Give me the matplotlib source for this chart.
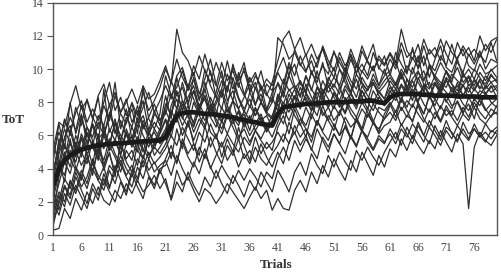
import numpy as np
from matplotlib import pyplot as plt
from matplotlib import rcParams

rcParams.update({
    'font.family': 'Liberation Serif', 'font.size': 8.5,
    'axes.edgecolor': '#555555', 'axes.linewidth': 1.0,
    'xtick.color': '#555555', 'ytick.color': '#555555',
    'xtick.labelcolor': '#444444', 'ytick.labelcolor': '#444444',
})

# trials 1..80, four blocks of 20
trials = np.arange(1, 81)

# group mean time on target (thick line)
mean_tot = [3.0, 4.0, 4.5, 4.8, 5.0, 5.15, 5.25, 5.35, 5.4, 5.45,
            5.5, 5.5, 5.55, 5.55, 5.6, 5.6, 5.65, 5.65, 5.7, 5.7,
            5.9, 6.6, 7.2, 7.35, 7.4, 7.4, 7.35, 7.3, 7.3, 7.25,
            7.2, 7.15, 7.1, 7.0, 6.95, 6.85, 6.8, 6.7, 6.65, 6.6,
            7.3, 7.7, 7.75, 7.8, 7.85, 7.9, 7.9, 7.95, 7.95, 8.0,
            8.0, 8.0, 8.0, 8.05, 8.05, 8.05, 8.1, 8.1, 8.0, 7.95,
            8.3, 8.45, 8.5, 8.5, 8.5, 8.5, 8.45, 8.45, 8.4, 8.4,
            8.4, 8.4, 8.35, 8.35, 8.35, 8.35, 8.3, 8.3, 8.3, 8.3]

# individual participants (thin lines)
subj_a = [5.2, 6.8, 6.5, 7.9, 9.0, 7.6, 8.1, 7.0, 8.4, 9.1, 7.8, 8.6, 7.4, 8.0, 8.8, 7.9, 9.0, 8.2, 8.5, 9.3,
          10.2, 9.1, 12.4, 11.0, 10.5, 9.6, 10.8, 9.9, 9.2, 10.4, 9.5, 8.8, 10.1, 9.3, 9.9, 8.7, 9.6, 9.0, 8.4, 9.2,
          10.5, 11.8, 12.3, 11.2, 11.9, 10.8, 11.5, 10.6, 11.2, 10.2, 11.0, 10.4, 9.8, 10.9, 10.1, 11.4, 10.5, 9.9, 10.8, 10.3,
          11.0, 10.4, 12.4, 11.1, 10.6, 11.5, 10.2, 11.2, 10.7, 11.8, 10.9, 10.3, 11.6, 10.8, 11.3, 10.5, 12.0, 11.1, 11.7, 11.9]
subj_b = [3.8, 5.5, 6.9, 6.2, 7.4, 8.1, 6.8, 7.6, 6.9, 8.0, 9.2, 7.5, 8.3, 7.2, 7.9, 6.8, 7.7, 8.6, 7.4, 8.1,
          9.0, 8.2, 9.6, 10.1, 8.9, 9.8, 8.5, 9.4, 10.6, 9.1, 8.3, 9.7, 8.8, 9.5, 10.4, 8.6, 9.2, 8.0, 9.1, 8.7,
          9.8, 9.1, 10.4, 9.6, 10.8, 9.9, 10.5, 9.4, 10.2, 9.7, 11.1, 10.0, 9.5, 10.6, 9.8, 10.3, 9.6, 11.0, 10.1, 9.7,
          10.6, 10.0, 11.2, 9.8, 10.7, 10.1, 11.4, 10.3, 9.9, 10.8, 10.2, 11.5, 10.4, 9.8, 10.9, 10.3, 11.1, 10.0, 10.6, 10.4]
subj_c = [2.4, 4.9, 5.8, 7.1, 6.3, 7.8, 6.5, 5.9, 7.2, 6.6, 7.9, 6.1, 7.4, 8.2, 6.8, 7.5, 6.4, 7.1, 7.9, 6.9,
          7.6, 9.3, 8.4, 8.9, 7.8, 9.5, 8.2, 8.8, 7.5, 8.6, 9.9, 8.1, 8.7, 7.6, 8.3, 9.1, 7.9, 8.5, 7.4, 8.0,
          9.2, 8.6, 9.7, 10.3, 9.1, 8.7, 9.8, 9.2, 10.4, 8.9, 9.5, 9.0, 10.1, 9.3, 8.8, 9.9, 9.4, 10.2, 9.0, 9.6,
          9.9, 10.5, 9.4, 10.2, 9.7, 10.8, 9.3, 10.1, 9.6, 10.4, 9.8, 9.2, 10.6, 9.5, 10.0, 9.4, 10.3, 9.7, 9.9, 10.2]
subj_d = [1.2, 3.5, 4.8, 5.6, 4.7, 6.1, 5.3, 6.7, 5.9, 5.2, 6.4, 5.7, 6.9, 6.0, 5.4, 6.6, 7.2, 6.1, 6.8, 6.3,
          7.9, 7.2, 8.6, 7.5, 8.3, 9.0, 7.7, 8.2, 7.1, 7.9, 8.6, 7.4, 8.1, 7.6, 6.9, 7.8, 7.2, 8.0, 7.3, 7.0,
          8.5, 7.9, 8.8, 8.2, 9.3, 8.6, 8.0, 8.9, 8.4, 9.2, 8.7, 8.1, 9.0, 8.5, 9.4, 8.3, 8.8, 9.1, 8.6, 8.2,
          9.3, 8.8, 9.6, 9.0, 8.5, 9.4, 9.9, 8.9, 9.2, 8.6, 9.5, 9.1, 8.7, 9.8, 9.0, 9.3, 8.8, 9.6, 9.2, 9.4]
subj_e = [3.0, 4.2, 3.6, 5.1, 4.4, 5.8, 4.9, 5.5, 4.6, 6.0, 5.1, 5.7, 4.8, 6.2, 5.3, 5.9, 5.0, 6.3, 5.4, 5.8,
          6.4, 7.5, 6.8, 7.9, 7.1, 6.5, 7.6, 6.9, 7.8, 7.0, 6.4, 7.3, 6.7, 7.5, 6.6, 7.2, 6.3, 6.9, 6.2, 6.8,
          7.1, 8.0, 7.4, 8.3, 7.6, 8.5, 7.8, 7.2, 8.4, 7.7, 8.6, 7.9, 7.3, 8.2, 7.8, 8.7, 8.0, 7.5, 8.3, 7.9,
          8.7, 8.1, 9.0, 8.4, 8.8, 8.0, 9.1, 8.5, 8.2, 9.0, 8.6, 8.3, 9.2, 8.4, 8.9, 8.1, 8.7, 8.5, 9.0, 8.3]
subj_f = [0.6, 2.1, 3.4, 2.8, 4.1, 3.5, 4.7, 3.9, 5.2, 4.3, 4.9, 3.8, 5.4, 4.6, 5.1, 4.2, 5.6, 4.8, 5.3, 4.9,
          5.5, 6.3, 7.1, 6.0, 6.8, 5.7, 6.6, 7.4, 6.2, 5.8, 6.9, 6.1, 7.0, 5.9, 6.4, 5.6, 6.3, 5.8, 6.5, 5.9,
          6.8, 7.6, 6.9, 7.8, 7.1, 6.6, 7.5, 8.0, 7.2, 7.7, 6.9, 7.4, 8.1, 7.3, 6.8, 7.6, 7.1, 7.9, 7.4, 7.0,
          7.8, 8.4, 7.5, 8.1, 7.7, 8.6, 7.9, 7.4, 8.2, 7.6, 8.5, 7.8, 8.0, 7.3, 8.3, 7.7, 8.1, 7.5, 7.9, 8.2]
subj_g = [1.5, 2.6, 2.0, 3.3, 2.7, 3.9, 3.1, 4.4, 3.6, 3.0, 4.2, 3.7, 4.8, 4.0, 3.5, 4.6, 4.1, 5.0, 4.3, 4.7,
          5.2, 6.0, 5.4, 6.5, 5.8, 5.1, 6.2, 5.6, 6.7, 5.9, 5.3, 6.1, 5.5, 5.0, 5.9, 5.4, 6.3, 5.7, 5.2, 5.6,
          6.2, 5.6, 6.8, 6.1, 7.0, 6.4, 5.9, 6.9, 6.3, 7.2, 6.6, 6.0, 7.1, 6.5, 6.9, 6.2, 7.3, 6.7, 6.4, 7.0,
          7.4, 6.9, 7.7, 7.1, 7.9, 7.3, 6.8, 7.6, 7.0, 7.8, 7.2, 7.5, 6.9, 7.7, 7.1, 8.0, 7.4, 7.0, 7.6, 7.3]
subj_h = [0.3, 0.4, 1.6, 1.0, 2.2, 1.5, 2.6, 1.9, 2.9, 2.1, 1.8, 2.7, 2.2, 3.1, 2.5, 3.3, 2.6, 3.0, 3.6, 2.8,
          3.4, 2.1, 3.2, 2.6, 3.8, 3.0, 2.4, 3.5, 2.9, 3.9, 3.1, 2.5, 3.6, 3.0, 2.3, 3.3, 2.7, 3.8, 3.2, 2.6,
          3.9, 3.3, 2.6, 3.8, 4.4, 3.6, 4.9, 4.2, 3.7, 4.8, 4.1, 5.0, 4.4, 3.9, 5.1, 4.5, 5.3, 4.7, 4.2, 5.0,
          5.6, 6.2, 5.4, 6.5, 5.8, 6.8, 6.0, 5.5, 6.6, 5.9, 6.9, 6.1, 5.7, 6.4, 5.8, 6.7, 6.0, 5.6, 6.3, 6.1]
subj_i = [2.0, 1.2, 2.5, 1.8, 3.0, 2.3, 1.6, 2.8, 2.1, 3.4, 2.6, 2.0, 3.2, 2.4, 3.7, 2.9, 2.2, 3.5, 2.8, 3.9,
          3.1, 2.2, 3.9, 3.0, 3.5, 2.7, 2.0, 2.8, 2.5, 1.9, 2.4, 3.1, 2.6, 2.1, 1.6, 2.3, 2.9, 2.2, 2.7, 1.5,
          2.2, 1.6, 1.5, 2.7, 3.3, 2.6, 3.8, 3.1, 4.2, 3.5, 4.6, 3.9, 3.3, 4.5, 3.8, 5.0, 4.3, 3.6, 4.8, 4.1,
          5.2, 4.7, 5.8, 5.1, 6.0, 5.4, 4.9, 5.7, 5.2, 6.3, 5.6, 5.0, 6.1, 5.5, 1.6, 5.3, 6.2, 5.7, 5.4, 6.0]
subj_j = [4.5, 6.7, 5.2, 8.0, 6.1, 7.3, 5.5, 6.9, 8.3, 6.0, 7.1, 9.2, 6.4, 7.6, 5.8, 7.0, 8.1, 6.3, 7.5, 6.6,
          8.4, 7.0, 9.5, 8.1, 7.3, 8.7, 7.5, 9.2, 8.0, 7.2, 8.8, 10.5, 9.1, 8.2, 7.4, 8.6, 7.8, 9.0, 7.6, 8.3,
          7.5, 8.9, 10.2, 9.0, 8.3, 9.6, 8.7, 9.9, 8.5, 9.3, 10.1, 8.8, 9.5, 8.6, 10.3, 9.2, 8.7, 9.7, 9.0, 10.0,
          9.0, 8.5, 9.8, 8.7, 10.1, 9.2, 8.6, 10.3, 9.4, 8.8, 9.9, 9.1, 8.4, 9.7, 9.2, 10.0, 9.5, 8.9, 9.6, 9.3]
subj_k = [2.8, 4.0, 5.5, 4.6, 3.9, 5.0, 4.3, 5.7, 4.8, 4.1, 5.4, 4.7, 3.8, 5.1, 4.5, 5.9, 5.2, 4.6, 5.5, 6.1,
          6.9, 5.9, 7.5, 6.6, 7.3, 6.2, 7.0, 6.4, 7.7, 6.8, 6.1, 7.2, 6.5, 5.7, 6.8, 6.0, 6.6, 7.1, 6.3, 6.7,
          7.3, 6.7, 7.9, 7.2, 6.6, 7.7, 7.0, 8.2, 7.4, 6.9, 7.8, 7.2, 8.3, 7.6, 7.1, 8.0, 7.4, 6.8, 7.7, 7.5,
          8.0, 7.4, 8.3, 7.7, 8.6, 7.9, 7.3, 8.4, 7.8, 8.7, 8.1, 7.6, 8.5, 7.9, 7.5, 8.2, 7.8, 8.6, 8.0, 7.7]
subj_l = [3.5, 5.8, 4.5, 6.3, 5.0, 7.2, 5.9, 6.6, 5.4, 8.8, 6.2, 7.0, 5.7, 6.8, 7.6, 6.1, 8.9, 7.0, 6.4, 7.3,
          9.6, 8.4, 8.9, 9.9, 8.7, 9.4, 8.1, 10.0, 9.0, 8.3, 9.3, 8.6, 10.3, 9.1, 8.4, 9.5, 8.8, 9.9, 8.5, 8.0,
          11.9, 11.5, 10.6, 11.0, 10.2, 10.9, 9.7, 10.4, 11.3, 10.1, 9.5, 10.7, 9.9, 11.2, 10.3, 9.8, 10.6, 11.5, 10.0, 10.8,
          9.6, 11.0, 10.3, 9.7, 11.3, 10.0, 10.8, 9.5, 10.6, 11.4, 10.1, 9.8, 10.7, 11.2, 10.2, 9.9, 10.9, 10.4, 11.6, 10.5]
subj_m = [1.8, 3.1, 4.4, 3.7, 5.1, 4.2, 4.9, 3.6, 5.3, 4.5, 5.8, 4.9, 4.2, 5.5, 6.0, 5.1, 4.6, 5.8, 5.2, 6.2,
          7.0, 6.3, 7.7, 7.1, 6.5, 8.0, 7.2, 6.6, 7.9, 7.3, 6.8, 7.6, 6.9, 7.4, 6.5, 7.1, 6.7, 7.3, 6.4, 6.9,
          7.9, 7.3, 8.5, 7.8, 8.9, 8.1, 7.5, 8.6, 8.0, 9.0, 8.3, 7.7, 8.8, 8.2, 7.6, 8.7, 8.1, 9.2, 8.4, 7.9,
          8.6, 9.2, 8.4, 8.9, 8.1, 9.5, 8.7, 8.2, 9.1, 8.5, 9.3, 8.8, 8.3, 9.0, 8.6, 9.4, 8.9, 8.8, 9.2, 8.7]
subj_n = [4.9, 6.2, 5.4, 4.6, 6.0, 5.1, 6.5, 5.7, 4.9, 6.3, 5.5, 6.8, 5.2, 6.1, 5.6, 6.9, 6.0, 5.3, 6.4, 5.8,
          6.2, 7.4, 8.2, 7.0, 7.8, 6.6, 7.5, 8.4, 7.1, 6.5, 7.7, 7.0, 8.1, 6.8, 7.3, 6.3, 7.6, 6.9, 7.2, 6.5,
          8.4, 7.6, 8.1, 8.8, 7.8, 8.3, 7.5, 8.9, 8.2, 7.7, 8.5, 8.0, 7.4, 8.6, 7.9, 8.3, 7.6, 8.7, 8.1, 7.8,
          8.3, 8.8, 8.0, 9.4, 8.6, 8.1, 9.0, 8.4, 9.2, 8.7, 8.0, 8.9, 8.5, 9.1, 8.2, 8.8, 8.4, 9.0, 8.6, 8.9]
subj_o = [0.8, 1.9, 3.0, 2.4, 3.8, 2.9, 3.5, 4.6, 3.3, 4.1, 2.9, 3.8, 4.5, 3.6, 4.2, 3.4, 4.8, 3.9, 4.4, 3.7,
          4.6, 5.4, 4.3, 5.8, 4.9, 5.5, 4.4, 5.2, 4.0, 4.8, 5.6, 4.5, 5.1, 4.1, 4.9, 4.3, 5.3, 4.6, 4.2, 4.9,
          5.4, 6.1, 5.5, 6.6, 5.9, 6.4, 5.6, 6.9, 6.2, 5.7, 6.7, 6.0, 6.5, 5.8, 7.0, 6.3, 5.9, 6.8, 6.1, 6.6,
          6.8, 7.5, 6.6, 7.2, 6.9, 7.8, 7.0, 6.5, 7.4, 6.8, 7.6, 7.1, 6.6, 7.3, 6.9, 7.7, 7.0, 6.7, 7.2, 7.4]
subj_p = [2.2, 3.7, 5.0, 4.1, 5.6, 4.7, 6.2, 5.3, 4.5, 6.6, 5.1, 5.8, 4.9, 6.4, 5.5, 5.0, 6.7, 5.8, 6.2, 5.5,
          6.0, 7.8, 8.7, 7.5, 9.1, 8.2, 7.4, 8.8, 9.9, 8.3, 7.6, 9.0, 8.1, 9.8, 8.5, 7.7, 8.9, 8.0, 7.5, 8.6,
          9.1, 8.3, 9.6, 8.8, 9.3, 8.5, 9.9, 9.0, 8.4, 9.5, 8.9, 10.0, 9.2, 8.6, 9.7, 9.1, 8.7, 9.4, 8.8, 9.3,
          9.7, 9.1, 10.0, 9.4, 8.9, 9.8, 9.3, 10.2, 9.5, 9.0, 9.9, 9.4, 10.1, 9.2, 9.6, 9.0, 9.8, 9.3, 10.0, 9.5]
subj_q = [1.0, 2.4, 1.7, 3.2, 2.5, 3.6, 2.8, 4.0, 3.3, 2.7, 3.9, 3.1, 4.3, 3.5, 2.9, 4.1, 3.4, 4.6, 3.8, 4.2,
          4.5, 3.6, 4.8, 4.0, 3.3, 4.4, 3.7, 4.9, 4.1, 3.4, 4.2, 3.6, 3.1, 3.9, 3.3, 4.0, 3.5, 2.9, 3.8, 3.4,
          4.6, 5.3, 4.5, 5.7, 5.0, 5.8, 5.2, 4.6, 5.9, 5.3, 6.1, 5.5, 4.9, 6.0, 5.4, 6.3, 5.6, 5.1, 5.8, 5.5,
          6.4, 5.8, 6.7, 6.1, 5.5, 6.6, 6.0, 6.9, 6.3, 5.7, 6.5, 6.2, 5.6, 6.8, 6.1, 6.4, 5.9, 6.7, 6.2, 6.5]
subj_r = [5.5, 4.3, 5.9, 6.6, 5.2, 7.0, 6.1, 5.4, 6.8, 6.0, 7.4, 6.3, 5.7, 7.1, 6.5, 7.8, 6.6, 6.0, 7.3, 6.9,
          7.3, 8.5, 7.6, 9.2, 8.0, 8.7, 7.7, 8.4, 7.3, 8.1, 8.8, 7.8, 9.5, 8.3, 7.6, 8.2, 7.2, 8.0, 7.4, 7.1,
          8.1, 9.4, 8.7, 9.0, 8.4, 9.6, 8.8, 8.2, 9.3, 8.6, 9.1, 8.5, 9.8, 9.0, 8.3, 9.5, 8.9, 9.2, 8.6, 9.0,
          9.5, 9.0, 9.8, 8.9, 9.4, 9.9, 9.1, 8.8, 9.6, 9.2, 8.9, 9.7, 9.3, 9.0, 9.5, 8.8, 9.4, 9.1, 9.7, 9.2]
subj_s = [2.6, 1.5, 2.9, 2.2, 3.5, 2.7, 1.9, 3.1, 2.4, 3.7, 2.8, 4.2, 3.3, 2.6, 3.9, 3.2, 4.5, 3.6, 3.0, 4.0,
          4.2, 5.0, 4.4, 5.6, 4.7, 4.1, 5.3, 4.6, 5.9, 5.0, 4.3, 5.4, 4.8, 5.8, 4.6, 5.1, 4.4, 5.5, 4.7, 4.1,
          5.0, 4.3, 5.6, 6.2, 5.4, 6.0, 5.1, 6.4, 5.7, 5.0, 6.1, 5.5, 6.6, 5.9, 5.3, 6.3, 5.8, 5.2, 6.0, 5.6,
          6.1, 5.5, 6.4, 5.9, 6.7, 6.2, 5.6, 6.5, 6.0, 5.4, 6.3, 5.8, 6.6, 6.1, 5.7, 6.4, 5.9, 6.2, 5.8, 6.3]
subj_t = [3.3, 5.1, 6.4, 5.5, 4.8, 5.9, 5.2, 6.7, 5.8, 6.2, 5.3, 6.8, 6.0, 5.4, 6.5, 5.7, 6.9, 6.2, 5.6, 6.4,
          7.5, 6.7, 7.2, 8.1, 7.4, 6.8, 7.9, 7.2, 8.3, 7.5, 6.9, 7.8, 7.1, 6.6, 7.5, 6.9, 7.7, 7.0, 6.5, 7.2,
          8.0, 8.6, 7.8, 8.4, 7.9, 9.1, 8.3, 7.7, 8.8, 8.2, 7.6, 8.9, 8.1, 8.5, 7.8, 9.0, 8.4, 7.9, 8.7, 8.2,
          8.9, 8.4, 9.1, 8.6, 9.3, 8.5, 8.9, 9.2, 8.3, 8.8, 9.4, 8.6, 9.0, 8.4, 9.1, 8.7, 9.3, 8.5, 8.9, 9.0]
subj_u = [2.5, 4.4, 3.2, 5.8, 4.0, 3.3, 5.4, 4.2, 6.1, 3.9, 5.0, 3.5, 5.7, 4.4, 3.8, 5.5, 4.6, 5.9, 4.8, 5.3,
          5.9, 4.6, 6.4, 5.2, 6.9, 5.5, 4.8, 6.6, 5.3, 6.1, 4.7, 5.8, 5.0, 6.5, 5.4, 4.5, 5.9, 4.9, 5.6, 5.1,
          6.5, 7.2, 6.1, 7.6, 6.7, 5.9, 7.3, 6.6, 7.8, 6.9, 6.3, 7.5, 6.8, 5.8, 7.1, 6.4, 7.7, 6.9, 6.2, 7.3,
          7.9, 7.1, 8.2, 7.5, 6.8, 8.0, 7.3, 8.4, 7.6, 6.9, 7.8, 7.2, 8.1, 7.4, 7.9, 7.0, 8.3, 7.6, 7.1, 7.8]
subj_v = [3.9, 5.3, 7.0, 6.0, 7.7, 6.6, 8.2, 7.1, 6.4, 7.8, 6.9, 8.4, 7.3, 6.7, 8.0, 7.2, 8.6, 7.5, 8.1, 8.9,
          10.0, 9.2, 10.6, 9.5, 8.8, 10.2, 9.4, 10.9, 9.7, 9.0, 10.4, 9.3, 9.9, 8.9, 10.1, 9.2, 9.8, 8.7, 9.4, 9.0,
          9.9, 10.7, 9.6, 11.2, 10.3, 9.8, 10.9, 10.1, 11.4, 10.5, 9.9, 11.0, 10.2, 10.8, 9.7, 11.1, 10.4, 9.9, 10.6, 10.2,
          10.9, 10.2, 11.6, 10.7, 11.1, 10.4, 11.8, 10.9, 11.3, 10.5, 11.7, 11.0, 10.6, 11.4, 10.8, 11.2, 10.7, 11.5, 11.0, 11.8]

subjects = [subj_a, subj_b, subj_c, subj_d, subj_e, subj_f, subj_g, subj_h, subj_i, subj_j, subj_k,
            subj_l, subj_m, subj_n, subj_o, subj_p, subj_q, subj_r, subj_s, subj_t, subj_u, subj_v]

xtick_labels = [str(t) for t in range(1, 80, 5)]

fig = plt.figure(figsize=(5.01, 2.73), dpi=100)
ax = fig.add_axes([0.1064, 0.139, 0.885, 0.851])

for s in subjects:
    ax.plot(trials, s, color='#2e2e2e', lw=0.9)
ax.plot(trials, mean_tot, color='#1a1a1a', lw=3.4, solid_capstyle='round')

ax.set_xlim(1, 80)
ax.set_ylim(0, 14)
ax.set_yticks(range(0, 15, 2))
ax.set_xticks(range(1, 80, 5))
ax.set_xticklabels(xtick_labels)
ax.set_xticks([1, 21, 41, 61], minor=True)
ax.tick_params(axis='x', which='major', length=0, pad=5)
ax.tick_params(axis='x', which='minor', length=4, direction='inout')
ax.tick_params(axis='y', length=4, direction='out', pad=3)

# axis titles placed in figure coords
fig.text(13 / 501, 1 - 120 / 273, 'ToT', fontweight='bold', fontsize=9.5,
         color='#333333', ha='center', va='center')
fig.text(276 / 501, 1 - 265 / 273, 'Trials', fontweight='bold', fontsize=9.5,
         color='#333333', ha='center', va='center')

plt.savefig('out.png', dpi=100)
